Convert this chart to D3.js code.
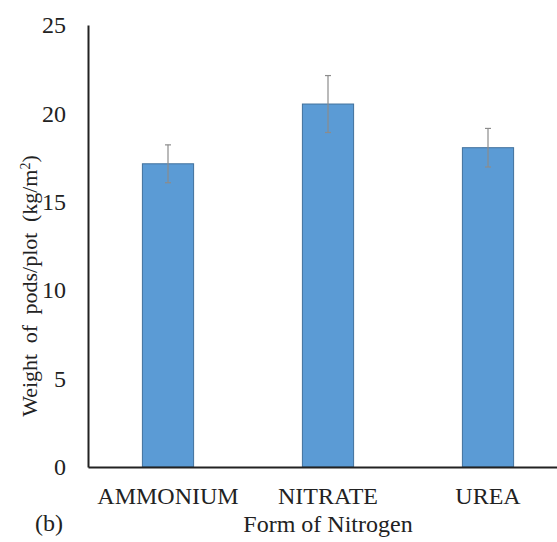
<!DOCTYPE html>
<html>
<head>
<meta charset="utf-8">
<script src="https://d3js.org/d3.v7.min.js"></script>
<style>
  body { margin: 0; background: #fff; }
  text { font-family: "Liberation Serif", "Times New Roman", serif; fill: #222; }
</style>
</head>
<body>
<div id="chart"></div>
<script>
// data
var forms = ["AMMONIUM", "NITRATE", "UREA"];
var weights = [17.15, 20.53, 18.06];
var errors = [1.07, 1.61, 1.09];
var yTicks = [0, 5, 10, 15, 20, 25];

var width = 557, height = 542;
var margin = { top: 25, left: 88, bottom: 75 };

var svg = d3.select("#chart")
    .append("svg")
    .attr("width", width)
    .attr("height", height);

// x band runs a little past the right edge, like the cropped original
var x = d3.scaleBand()
    .domain(forms)
    .range([margin.left, 568])
    .paddingInner(0.68)
    .paddingOuter(0.34);

var y = d3.scaleLinear()
    .domain([0, 25])
    .range([height - margin.bottom, margin.top]);

var data = forms.map(function (f, i) {
    return { form: f, value: weights[i], err: errors[i] };
});

// bars
svg.selectAll("rect.bar")
    .data(data)
    .enter().append("rect")
    .attr("class", "bar")
    .attr("x", function (d) { return x(d.form); })
    .attr("width", x.bandwidth())
    .attr("y", function (d) { return y(d.value); })
    .attr("height", function (d) { return y(0) - y(d.value); })
    .attr("fill", "#5B9BD5")
    .attr("stroke", "#41719C")
    .attr("stroke-width", 1);

// error bars
var eb = svg.selectAll("g.err")
    .data(data)
    .enter().append("g")
    .attr("class", "err")
    .attr("stroke", "#8c8c8c")
    .attr("stroke-width", 1.2);

eb.append("line")
    .attr("x1", function (d) { return x(d.form) + x.bandwidth() / 2; })
    .attr("x2", function (d) { return x(d.form) + x.bandwidth() / 2; })
    .attr("y1", function (d) { return y(d.value + d.err); })
    .attr("y2", function (d) { return y(d.value - d.err); });

[1, -1].forEach(function (s) {
    eb.append("line")
        .attr("x1", function (d) { return x(d.form) + x.bandwidth() / 2 - 3; })
        .attr("x2", function (d) { return x(d.form) + x.bandwidth() / 2 + 3; })
        .attr("y1", function (d) { return y(d.value + s * d.err); })
        .attr("y2", function (d) { return y(d.value + s * d.err); });
});

// y axis
var yAxis = svg.append("g")
    .attr("transform", "translate(" + margin.left + ",0)")
    .call(d3.axisLeft(y).tickValues(yTicks).tickSize(0).tickPadding(22));
yAxis.select(".domain").attr("stroke", "#222").attr("stroke-width", 2);
yAxis.attr("font-family", null);
yAxis.selectAll("text").style("font-size", "24px").attr("fill", "#222");

// x axis
var xAxis = svg.append("g")
    .attr("transform", "translate(0," + y(0) + ")")
    .call(d3.axisBottom(x).tickSize(0).tickPadding(20));
xAxis.select(".domain").attr("stroke", "#222").attr("stroke-width", 2);
xAxis.attr("font-family", null);
xAxis.selectAll("text").style("font-size", "24px").attr("fill", "#222");

// titles
svg.append("text")
    .attr("x", x("NITRATE") + x.bandwidth() / 2)
    .attr("y", 532)
    .attr("text-anchor", "middle")
    .style("font-size", "24px")
    .text("Form of Nitrogen");

svg.append("text")
    .attr("x", 35)
    .attr("y", 531)
    .style("font-size", "24px")
    .text("(b)");

svg.append("text")
    .attr("transform", "translate(37," + ((y(0) + y(25)) / 2 + 40) + ") rotate(-90)")
    .attr("text-anchor", "middle")
    .style("font-size", "22px")
    .style("word-spacing", "5px")
    .html("Weight of pods/plot (kg/m<tspan baseline-shift='super' font-size='14px'>2</tspan>)");
</script>
</body>
</html>
